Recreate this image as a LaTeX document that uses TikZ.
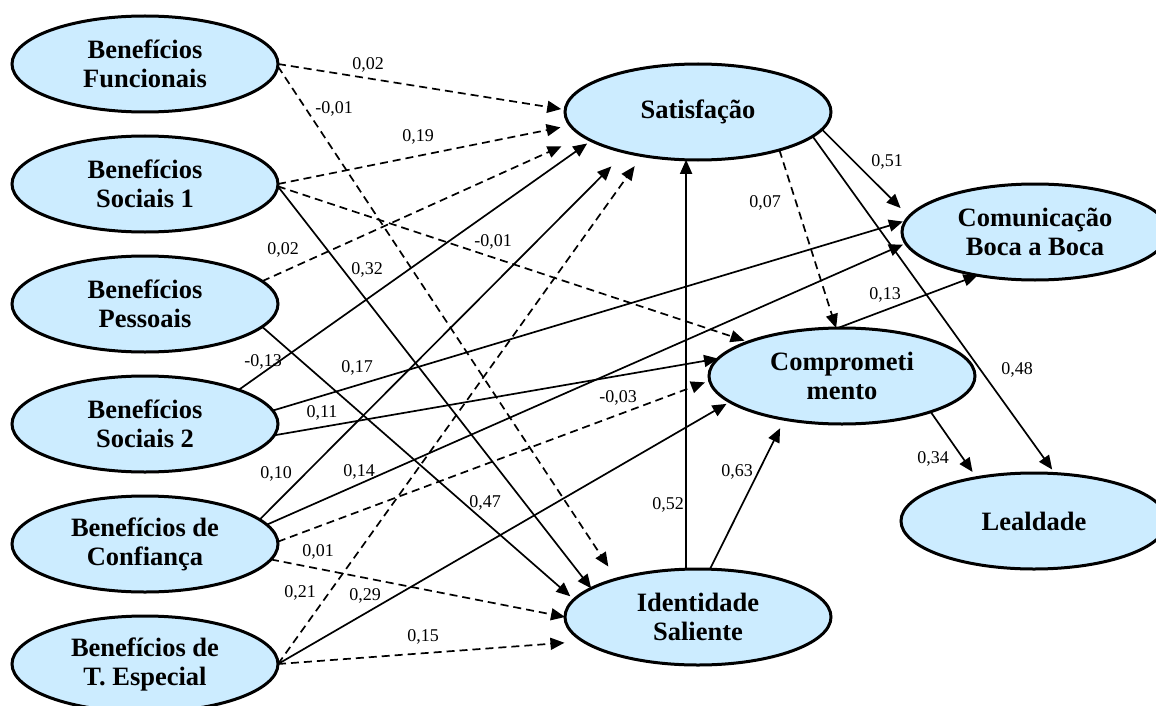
\documentclass[tikz,border=0pt]{standalone}
\usepackage{fontspec}
\setmainfont{Liberation Serif}
\usetikzlibrary{arrows.meta,shapes.geometric}
\definecolor{nodefill}{RGB}{204,236,255}
\begin{document}
\begin{tikzpicture}[x=1pt,y=-1pt,
  var/.style={ellipse, draw=black, line width=3pt, fill=nodefill, minimum width=266pt, minimum height=96pt, inner sep=0pt, outer sep=0pt, align=center, font=\fontsize{26.5}{29}\selectfont\bfseries},
  lab/.style={font=\fontsize{18}{20}\selectfont, inner sep=0pt},
  arr/.style={line width=1.7pt, -{Triangle[length=14pt,width=12pt]}},
  darr/.style={arr, dash pattern=on 8pt off 5pt}]
\fill[white] (0,0) rectangle (1156,706);
\useasboundingbox (0,0) rectangle (1156,706);
% nodes
\node[var] (bf)  at (145,64)  {Benefícios\\Funcionais};
\node[var] (bs1) at (145,184) {Benefícios\\Sociais 1};
\node[var] (bp)  at (145,304) {Benefícios\\Pessoais};
\node[var] (bs2) at (145,424) {Benefícios\\Sociais 2};
\node[var] (bc)  at (145,544) {Benefícios de\\Confiança};
\node[var] (bt)  at (145,664) {Benefícios de\\T. Especial};
\node[var] (sat)  at (698,112) {Satisfação};
\node[var] (iden) at (698,617) {Identidade\\Saliente};
\node[var] (comp) at (842,376) {Comprometi\\mento};
\node[var] (com)  at (1035,232) {Comunicação\\Boca a Boca};
\node[var] (leal) at (1034,521) {Lealdade};
% connectors
\draw[darr, shorten >=4pt]  (bf.0)    -- (sat.179);
\draw[darr, shorten >=15pt] (bf.-1)   -- (iden.155);
\draw[darr, shorten >=10pt] (bs1.0)   -- (sat.186);
\draw[darr, shorten >=4pt]  (bs1.-1)  -- (comp.160);
\draw[arr]                  (bs1.-1)  -- (iden.165);
\draw[darr, shorten >=24pt] (bp.11)   -- (sat.192);
\draw[arr, shorten >=5pt]   (bp.-11)  -- (iden.172);
\draw[arr, shorten >=5pt]   (bs2.20)  -- (sat.195);
\draw[arr, shorten >=3pt]   (bs2.6)   -- (com.175);
\draw[arr]                  (bs2.-5)  -- (comp.172);
\draw[arr, shorten >=20pt]  (bc.12)   -- (sat.209);
\draw[arr, shorten >=3pt]   (bc.9)    -- (com.185);
\draw[darr, shorten >=5pt]  (bc.1)    -- (comp.182);
\draw[darr]                 (bc.-7)   -- (iden.180);
\draw[darr, shorten >=13pt] (bt.0)    -- (sat.218);
\draw[arr, shorten >=4pt]   (bt.0)    -- (comp.193);
\draw[darr, shorten >=19pt] (bt.0)    -- (iden.192);
\draw[arr]                  (iden.104) -- (sat.256);
\draw[arr, shorten >=10pt]  (iden.76) -- (comp.217);
\draw[darr]                 (sat.-25) -- (comp.97);
\draw[arr]                  (comp.95) -- (com.217);
\draw[arr, shorten >=12pt]  (sat.-8)  -- (com.173);
\draw[arr, shorten >=5pt]   (sat.-12) -- (leal.66);
\draw[arr, shorten >=7pt]   (comp.-22) -- (leal.143);
% labels
\node[lab] (l1)  at (368,65)  {0,02};
\node[lab] (l2)  at (334,109) {-0,01};
\node[lab] (l3)  at (418,137) {0,19};
\node[lab] (l4)  at (283,250) {0,02};
\node[lab] (l5)  at (493,242) {-0,01};
\node[lab] (l6)  at (367,270) {0,32};
\node[lab] (l7)  at (263,362) {-0,13};
\node[lab] (l8)  at (357,368) {0,17};
\node[lab] (l9)  at (322,413) {0,11};
\node[lab] (l10) at (276,474) {0,10};
\node[lab] (l11) at (359,472) {0,14};
\node[lab] (l12) at (618,398) {-0,03};
\node[lab] (l13) at (485,503) {0,47};
\node[lab] (l14) at (318,552) {0,01};
\node[lab] (l15) at (300,593) {0,21};
\node[lab] (l16) at (365,596) {0,29};
\node[lab] (l17) at (423,637) {0,15};
\node[lab] (l18) at (668,505) {0,52};
\node[lab] (l19) at (737,472) {0,63};
\node[lab] (l20) at (765,203) {0,07};
\node[lab] (l21) at (887,162) {0,51};
\node[lab] (l22) at (885,295) {0,13};
\node[lab] (l23) at (1017,370) {0,48};
\node[lab] (l24) at (933,459) {0,34};
\end{tikzpicture}
\end{document}
